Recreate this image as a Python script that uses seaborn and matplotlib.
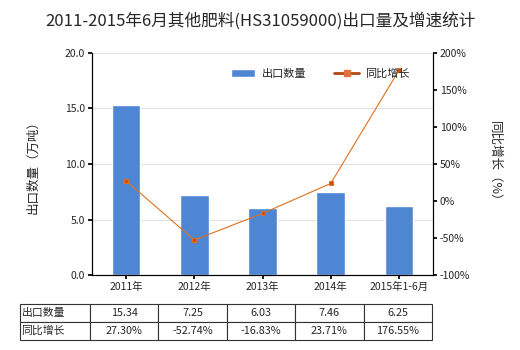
import matplotlib
matplotlib.use("Agg")
import matplotlib.pyplot as plt
import seaborn as sns
import pandas as pd
import numpy as np
from matplotlib.lines import Line2D

categories = ["2011年", "2012年", "2013年", "2014年", "2015年1-6月"]
export_qty = [15.34, 7.25, 6.03, 7.46, 6.25]
growth = [27.30, -52.74, -16.83, 23.71, 176.55]
qty_labels = ["15.34", "7.25", "6.03", "7.46", "6.25"]
growth_labels = ["27.30%", "-52.74%", "-16.83%", "23.71%", "176.55%"]
row_labels = ["出口数量", "同比增长"]
title = "2011-2015年6月其他肥料(HS31059000)出口量及增速统计"

sns.set_theme(style="white")
plt.rcParams['font.family'] = ['Noto Sans CJK SC', 'DejaVu Sans']
plt.rcParams['axes.unicode_minus'] = False

df = pd.DataFrame({"cat": categories, "qty": export_qty, "growth": growth})

fig = plt.figure(figsize=(5.2, 3.5), dpi=100)
ax = fig.add_axes([92/520, 75/350, 341/520, 222/350])
bar_color = "#4F86D4"
line_color = "#E0701E"

sns.barplot(data=df, x="cat", y="qty", color=bar_color, width=0.42, ax=ax,
            saturation=1, zorder=2, label="出口数量")
ax.set_ylim(0, 20)
ax.set_yticks(np.arange(0, 20.1, 5))
ax.set_yticklabels([f"{v:.1f}" for v in np.arange(0, 20.1, 5)])
ax.yaxis.grid(True, color="#DDE3E3", linewidth=0.8, zorder=0)
ax.set_xlabel("")
ax.set_ylabel("出口数量（万吨）", fontsize=9, labelpad=18)
ax.tick_params(axis="both", labelsize=7.5, length=3, direction="out", color="black", left=True, bottom=True, pad=2)
ax.spines["top"].set_visible(False)
for s in ["left", "bottom", "right"]:
    ax.spines[s].set_color("black")
    ax.spines[s].set_linewidth(0.8)

ax2 = ax.twinx()
sns.lineplot(x=np.arange(len(categories)), y=growth, ax=ax2, color=line_color,
             linewidth=0.8, marker="s", markersize=3.2, markerfacecolor="#C8501A",
             markeredgecolor=line_color, legend=False, zorder=3)
ax2.set_ylim(-100, 200)
ax2.set_yticks(np.arange(-100, 201, 50))
ax2.set_yticklabels([f"{int(v)}%" for v in np.arange(-100, 201, 50)])
ax2.set_ylabel("同比增长（%）", fontsize=9, rotation=270, labelpad=22)
ax2.tick_params(axis="y", labelsize=7.5, length=3, direction="out", color="black", right=True, pad=2)
ax2.spines["top"].set_visible(False)
for s in ["left", "bottom", "right"]:
    ax2.spines[s].set_color("black")
    ax2.spines[s].set_linewidth(0.8)
ax.set_xlim(-0.5, len(categories) - 0.5)

h1, l1 = ax.get_legend_handles_labels()
if ax.get_legend():
    ax.get_legend().remove()
lh = Line2D([0], [0], color="#B04A10", linewidth=2, marker="s", markersize=4,
            markerfacecolor="#E07040", markeredgecolor="#E07040")
ax2.legend(h1[:1] + [lh], ["出口数量", "同比增长"], loc="center", bbox_to_anchor=(0.67, 0.905),
           ncol=2, frameon=False, fontsize=8, handlelength=2.2, columnspacing=2.5, handletextpad=0.6)

fig.suptitle(title, fontsize=12, y=0.965)

# data table below
tab = fig.add_axes([20/520, 10/350, 412/520, 36/350])
tab.axis("off")
cell_text = [[row_labels[0]] + qty_labels, [row_labels[1]] + growth_labels]
colw = [70/412] + [342/412/5] * 5
t = tab.table(cellText=cell_text, colWidths=colw, cellLoc="center", bbox=[0, 0, 1, 1])
t.auto_set_font_size(False)
for (r, c), cell in t.get_celld().items():
    cell.set_fontsize(7.8)
    cell.set_edgecolor("#333333")
    cell.set_linewidth(0.8)
    if c == 0:
        cell.get_text().set_ha("left")
        cell.PAD = 0.02
        cell._loc = "left"
plt.savefig("out.png", dpi=100)
